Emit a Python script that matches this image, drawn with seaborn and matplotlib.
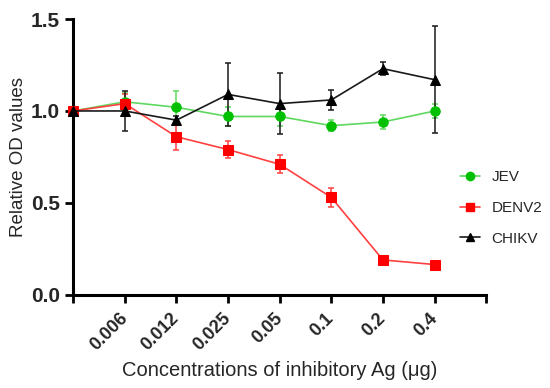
import numpy as np
import pandas as pd
import seaborn as sns
import matplotlib
matplotlib.use("Agg")
import matplotlib.pyplot as plt
from matplotlib.lines import Line2D

concentrations = ["0.006", "0.012", "0.025", "0.05", "0.1", "0.2", "0.4"]
positions = [0, 1, 2, 3, 4, 5, 6, 7]

jev = [1.00, 1.05, 1.02, 0.97, 0.97, 0.92, 0.94, 1.00]
jev_err = [0.0, 0.05, 0.09, 0.05, 0.05, 0.03, 0.04, 0.04]
denv2 = [1.00, 1.04, 0.86, 0.79, 0.71, 0.53, 0.19, 0.165]
denv2_err = [0.0, 0.05, 0.07, 0.045, 0.05, 0.05, 0.01, 0.005]
chikv = [1.00, 1.00, 0.95, 1.09, 1.04, 1.06, 1.23, 1.17]
chikv_err = [0.0, 0.11, 0.02, 0.17, 0.165, 0.055, 0.035, 0.29]

series = {"JEV": (jev, jev_err), "DENV2": (denv2, denv2_err), "CHIKV": (chikv, chikv_err)}
line_colors = {"JEV": "#5fd85f", "DENV2": "#ff4040", "CHIKV": "#1a1a1a"}
marker_colors = {"JEV": "#00c000", "DENV2": "#ff0000", "CHIKV": "#000000"}
markers = {"JEV": "o", "DENV2": "s", "CHIKV": "^"}

rows = []
for name, (vals, errs) in series.items():
    for p, v in zip(positions, vals):
        rows.append({"pos": p, "value": v, "virus": name})
df = pd.DataFrame(rows)

sns.set_style("ticks")
plt.rcParams["font.family"] = ["Liberation Sans", "DejaVu Sans"]

fig = plt.figure(figsize=(5.5, 3.88), dpi=100)
ax = fig.add_axes([0.133, 0.240, 0.751, 0.711])

for name, (vals, errs) in series.items():
    ax.errorbar(positions, vals, yerr=errs, fmt="none", ecolor=line_colors[name],
                elinewidth=1.1, capsize=2.5, capthick=1.1, clip_on=False, zorder=2)

sns.lineplot(data=df, x="pos", y="value", hue="virus", style="virus",
             palette=line_colors, markers=markers, dashes=False, linewidth=1.2,
             markersize=6.8, legend=False, ax=ax, zorder=3, clip_on=False)
# marker face colours stronger than line colour
for line, name in zip(ax.lines[-3:], series.keys()):
    line.set_markerfacecolor(marker_colors[name])
    line.set_markeredgecolor(marker_colors[name])

ax.set_xlim(0, 8)
ax.set_ylim(0, 1.5)
ax.set_xticks(range(0, 9))
ax.set_xticklabels([""] + concentrations + [""], rotation=45, ha="right", va="center",
                   rotation_mode="anchor", fontweight="bold", fontsize=13)
ax.set_yticks([0.0, 0.5, 1.0, 1.5])
ax.set_yticklabels(["0.0", "0.5", "1.0", "1.5"], fontweight="bold", fontsize=15)
ax.tick_params(axis="both", width=2, length=6, direction="out", color="black")
ax.tick_params(axis="x", pad=9)
for s in ["left", "bottom"]:
    ax.spines[s].set_linewidth(2.2)
    ax.spines[s].set_color("black")
sns.despine(ax=ax)

ax.set_xlabel("Concentrations of inhibitory Ag (μg)", fontsize=14.5, labelpad=5)
ax.set_ylabel("Relative OD values", fontsize=13.5, labelpad=3)

handles = [Line2D([0], [0], color=line_colors[n], marker=markers[n], markersize=6,
                  markerfacecolor=marker_colors[n], markeredgecolor=marker_colors[n],
                  linewidth=1.2) for n in series]
fig.legend(handles, list(series.keys()), loc="center left", bbox_to_anchor=(0.812, 0.464),
           frameon=False, fontsize=11, handlelength=1.3, labelspacing=1.1, handletextpad=0.75)

fig.savefig("out.png", dpi=100)
